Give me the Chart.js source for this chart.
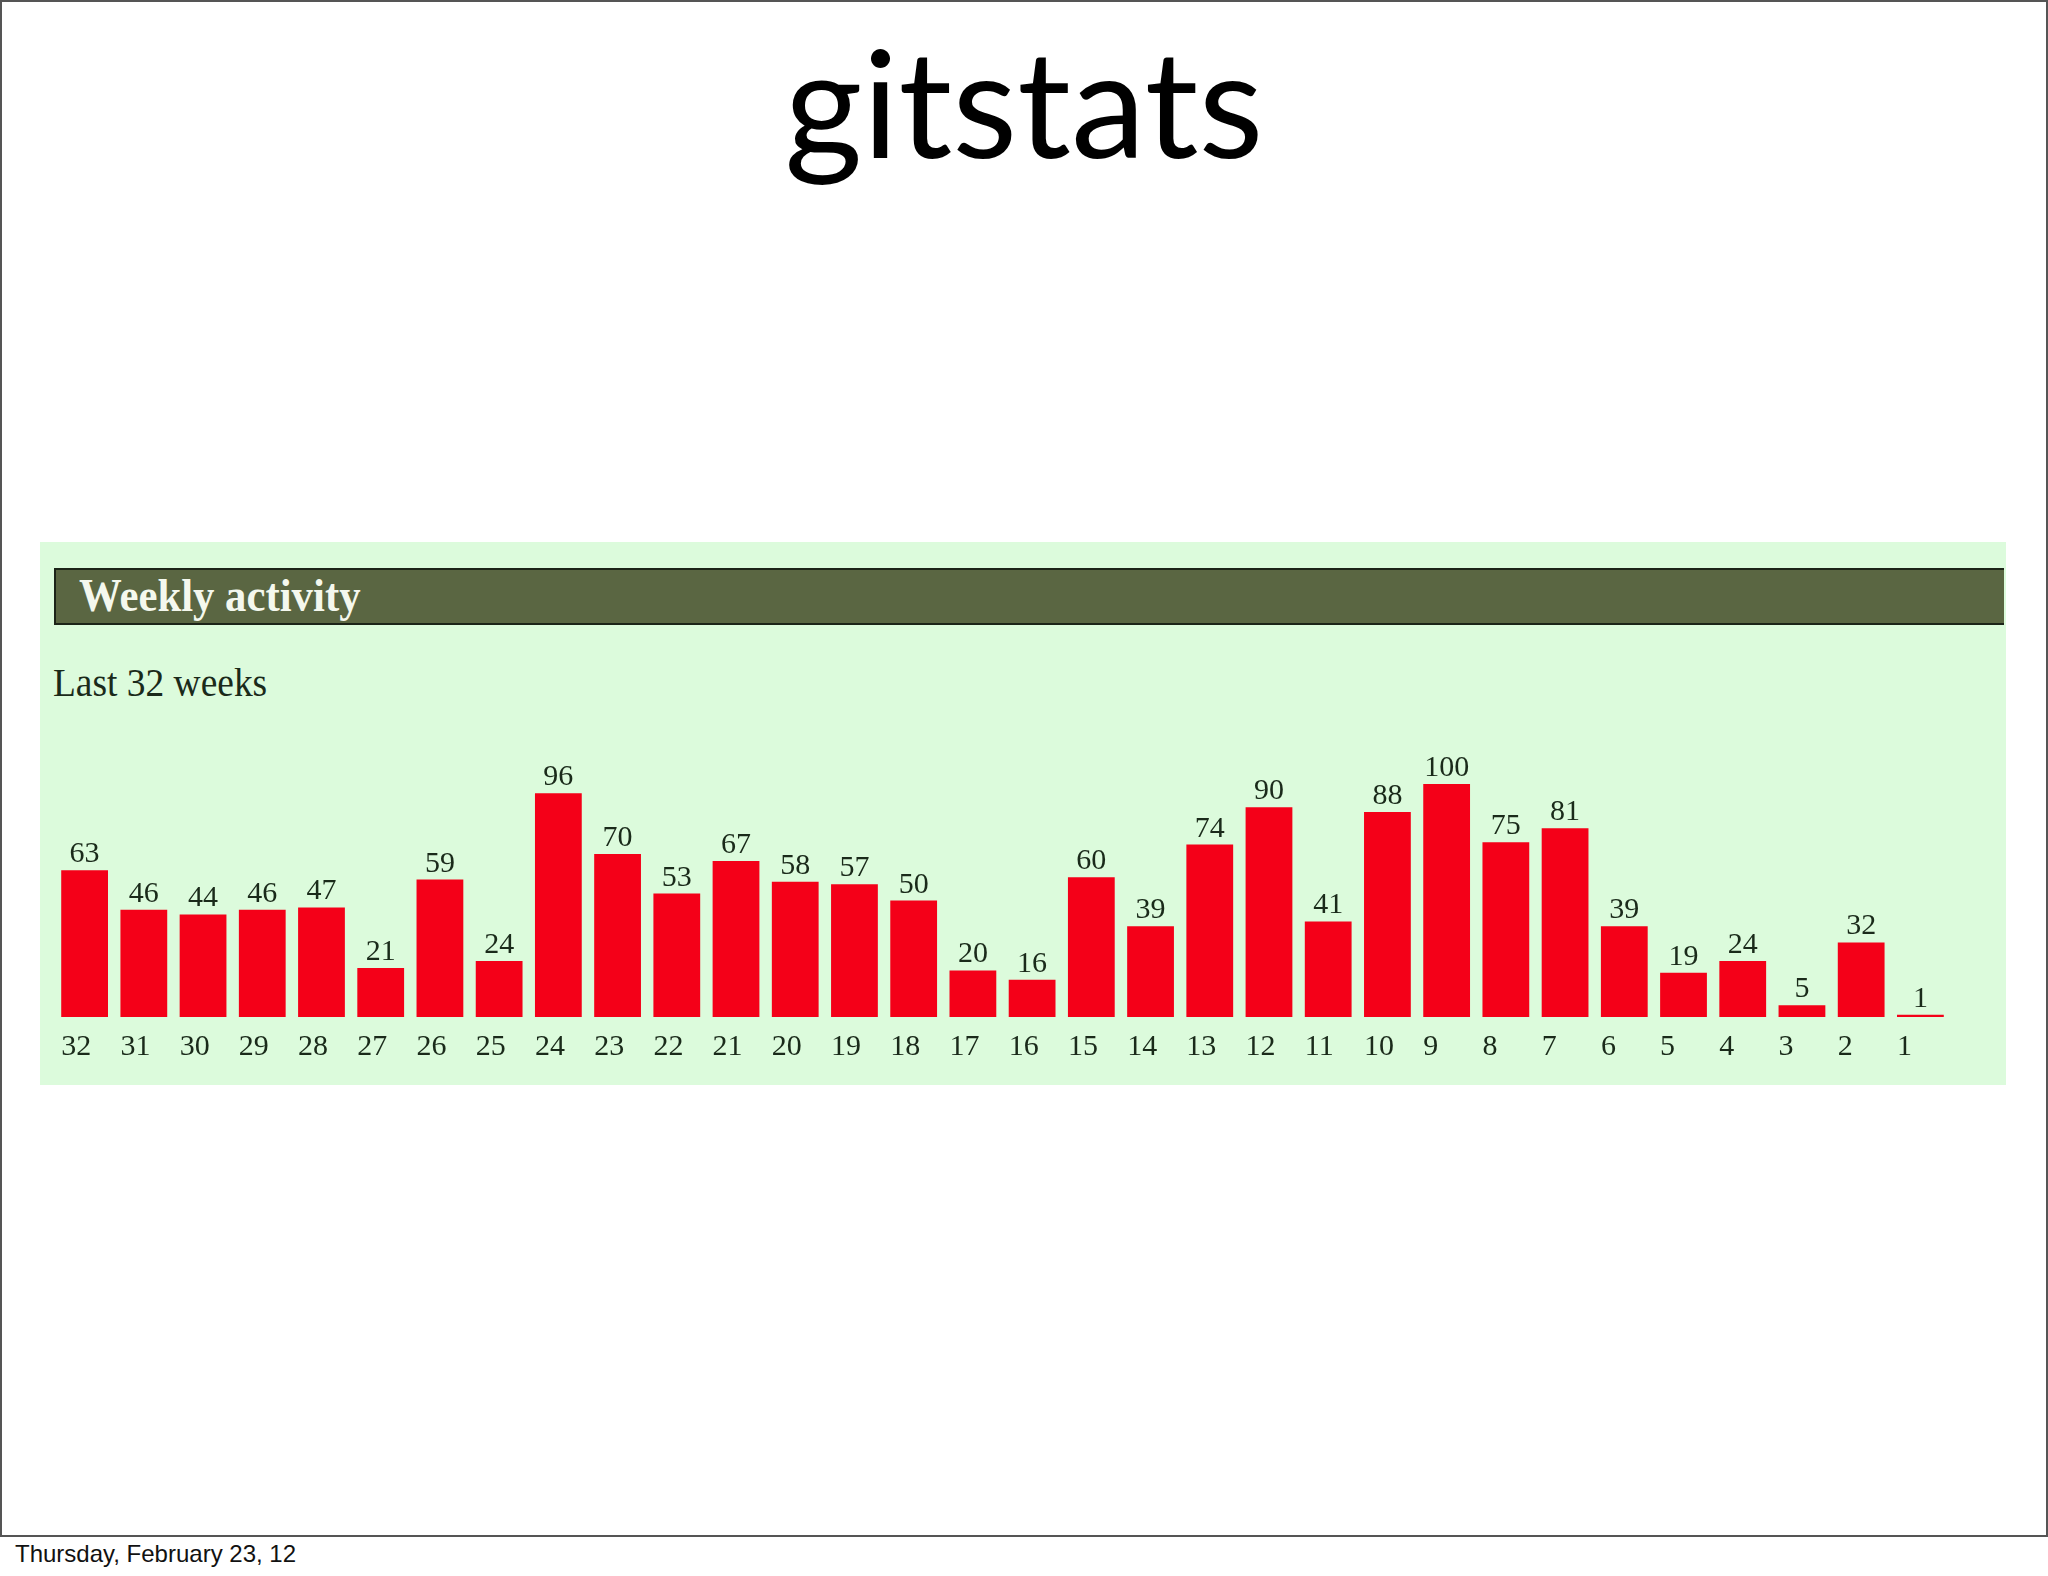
<!DOCTYPE html>
<html>
<head>
<meta charset="utf-8">
<script src="https://cdn.jsdelivr.net/npm/chart.js@4/dist/chart.umd.min.js"></script>
<style>
  body { margin: 0; background: #fff; }
  #slide {
    position: absolute; left: 0; top: 0;
    width: 2044px; height: 1533px;
    border: 2px solid #555; background: #fff;
  }
  #title {
    position: absolute; left: 0; top: 25px; width: 2048px;
    text-align: center; font: 150px/1 Lato, sans-serif; color: #000;
  }
  #panel {
    position: absolute; left: 40px; top: 542px;
    width: 1966px; height: 543px; background: #dcfbdc;
  }
  #header {
    position: absolute; left: 54px; top: 568px;
    width: 1948px; height: 53px;
    background: #5a6642; border: 2px solid #1c2418; border-right: none;
  }
  #header span {
    position: absolute; left: 23px; top: 2px;
    font: bold 47px/1 "Liberation Serif", serif; color: #f4f8ee;
    transform: scaleX(0.91); transform-origin: left top; white-space: nowrap;
  }
  #subtitle {
    position: absolute; left: 53px; top: 663px;
    font: 39px/1 "Liberation Serif", serif; color: #1a2a1a;
    transform: scaleX(0.96); transform-origin: left top; white-space: nowrap;
  }
  #chart { position: absolute; left: 40px; top: 740px; }
  #footer {
    position: absolute; left: 15px; top: 1542px;
    font: 24px/1 "Liberation Sans", sans-serif; color: #111;
  }
</style>
</head>
<body>
<div id="slide"></div>
<div id="title">gitstats</div>
<div id="panel"></div>
<div id="header"><span>Weekly activity</span></div>
<div id="subtitle">Last 32 weeks</div>
<canvas id="chart" width="1966" height="345"></canvas>
<div id="footer">Thursday, February 23, 12</div>

<script>
// Data
const weeks = ['32', '31', '30', '29', '28', '27', '26', '25', '24', '23', '22', '21', '20', '19', '18', '17',
  '16', '15', '14', '13', '12', '11', '10', '9', '8', '7', '6', '5', '4', '3', '2', '1'];
const commits = [63, 46, 44, 46, 47, 21, 59, 24, 96, 70, 53, 67, 58, 57, 50, 20,
  16, 60, 39, 74, 90, 41, 88, 100, 75, 81, 39, 19, 24, 5, 32, 1];
const maxValue = 100;

const barColor = '#f40018';
const textColor = '#1a2a1a';

// Draws the value over each bar and the week number under it
const barLabels = {
  id: 'barLabels',
  afterDatasetsDraw(chart) {
    const ctx = chart.ctx;
    const meta = chart.getDatasetMeta(0);
    ctx.save();
    ctx.fillStyle = textColor;
    ctx.font = '30px "Liberation Serif", serif';
    ctx.textBaseline = 'alphabetic';
    meta.data.forEach((bar, i) => {
      const { x, y, width, base } = bar.getProps(['x', 'y', 'width', 'base'], true);
      ctx.textAlign = 'center';
      ctx.fillText(String(commits[i]), x, y - 8);
      ctx.textAlign = 'left';
      ctx.fillText(weeks[i], x - width / 2, base + 38);
    });
    ctx.restore();
  }
};

function renderChart() {
  const ctx = document.getElementById('chart').getContext('2d');
  new Chart(ctx, {
    type: 'bar',
    data: {
      labels: weeks,
      datasets: [{
        data: commits,
        backgroundColor: barColor,
        borderWidth: 0,
        barPercentage: 0.79,
        categoryPercentage: 1
      }]
    },
    options: {
      responsive: false,
      animation: false,
      layout: { padding: { left: 15, right: 56, top: 44, bottom: 68 } },
      plugins: { legend: { display: false }, tooltip: { enabled: false } },
      scales: {
        x: { display: false },
        y: { display: false, min: 0, max: maxValue }
      }
    },
    plugins: [barLabels]
  });
}

document.addEventListener('DOMContentLoaded', renderChart);
</script>
</body>
</html>
